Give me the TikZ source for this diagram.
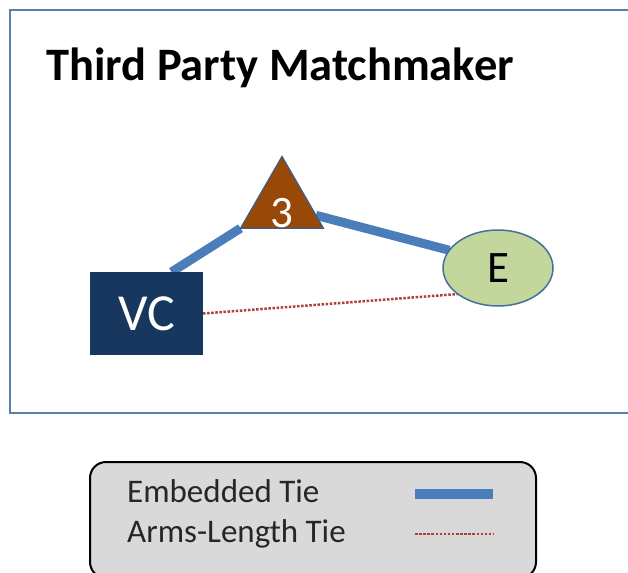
\documentclass[tikz,border=0pt]{standalone}
\usepackage{fontspec}
\setmainfont{Carlito}
\usetikzlibrary{shapes.geometric,backgrounds,calc}
\definecolor{framec}{HTML}{5A7FA8}
\definecolor{tieblue}{HTML}{4A7EBB}
\definecolor{tiered}{HTML}{B0403E}
\definecolor{vcfill}{HTML}{17375E}
\definecolor{trifill}{HTML}{984807}
\definecolor{triedge}{HTML}{3B5E8C}
\definecolor{efill}{HTML}{C3D69B}
\definecolor{eedge}{HTML}{41719C}
\definecolor{legfill}{HTML}{D9D9D9}
\begin{document}
\begin{tikzpicture}[x=1pt,y=-1pt,
  embedded/.style={draw=tieblue,line width=9pt},
  armslength/.style={draw=tiered,line width=2.5pt,dash pattern=on 2.5pt off 1.6pt},
  actor/.style={inner sep=0pt,outer sep=0pt},
  bigtext/.style={font=\fontsize{#1}{#1}\selectfont}]
\useasboundingbox (0,0) rectangle (628,572);
\clip (0,0) rectangle (628,572);
% nodes
\node[actor,regular polygon,regular polygon sides=3,minimum size=95.8pt,fill=trifill,draw=triedge,line width=1.2pt] (tri) at (282,204.3) {};
\node[bigtext=45,text=white,anchor=base] (three) at (282,227) {3};
\node[actor,ellipse,minimum width=110pt,minimum height=76pt,fill=efill,draw=eedge,line width=1.5pt,bigtext=45] (e) at (498,268) {E};
\node[actor,rectangle,minimum width=113pt,minimum height=83pt,fill=vcfill,text=white,bigtext=52] (vc) at (146.5,313.5) {VC};
\node[anchor=base west,inner sep=0pt,font=\bfseries\fontsize{46.5}{46.5}\selectfont] (title) at (46,81) {Third Party Matchmaker};
\begin{scope}[on background layer]
  \draw[framec,line width=2.5pt] (10,10) rectangle (660,413);
  \draw[embedded] (tri.corner 2) -- ([xshift=25pt]vc.north);
  \draw[embedded] ($(tri.corner 1)!0.82!(tri.corner 3)$) -- (e.160);
  \draw[armslength] (vc.east) -- (e.213);
\end{scope}
% legend
\node[draw=black,line width=2pt,fill=legfill,rounded corners=16pt,minimum width=446pt,minimum height=116pt,anchor=north west] (legend) at (89,461) {};
\node[anchor=base west,inner sep=0pt,bigtext=33,text=black!85] (l1) at (127,502) {Embedded Tie};
\node[anchor=base west,inner sep=0pt,bigtext=33,text=black!85] (l2) at (127,542) {Arms-Length Tie};
\coordinate (b1) at (415,494);
\coordinate (b2) at (493,494);
\coordinate (r1) at (415,534);
\coordinate (r2) at (493,534);
\draw[embedded,line width=10pt] (b1) -- (b2);
\draw[armslength] (r1) -- (r2);
\end{tikzpicture}
\end{document}
